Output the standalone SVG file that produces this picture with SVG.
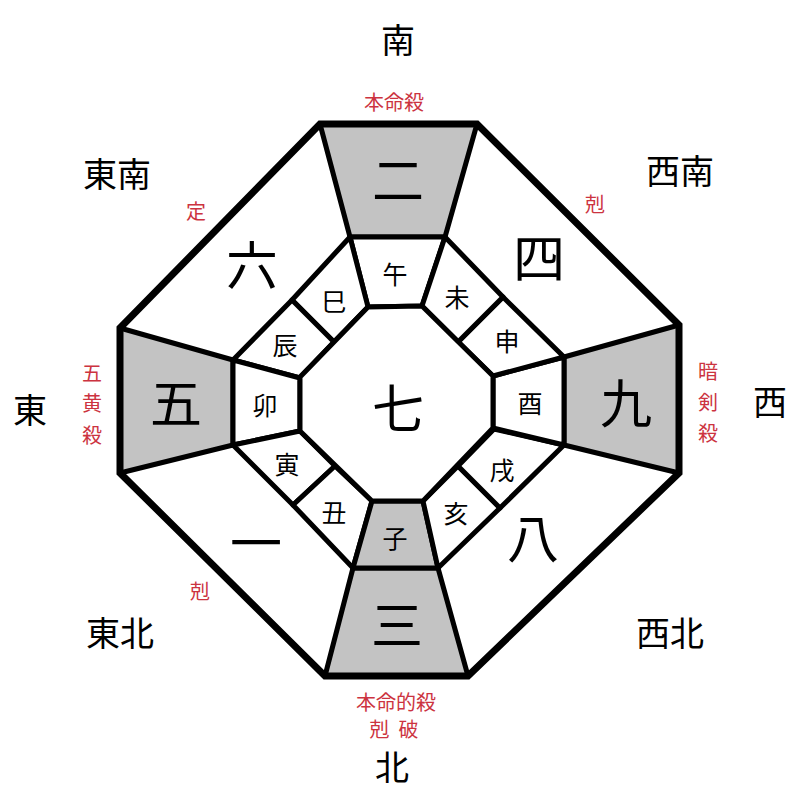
<svg xmlns="http://www.w3.org/2000/svg" width="800" height="800" viewBox="0 0 800 800">
<style>
.bg{fill:#ffffff}
.hl{fill:#c3c3c3;stroke:#000;stroke-width:5;stroke-linejoin:round}
.cell{fill:#ffffff;stroke:#000;stroke-width:5;stroke-linejoin:round}
.outer{fill:none;stroke:#000;stroke-width:7;stroke-linejoin:miter}
text{font-family:"Noto Sans CJK JP","Noto Sans CJK SC",sans-serif;text-anchor:middle;dominant-baseline:central}
.big{font-size:52px;fill:#000}
.br{font-size:25px;fill:#000}
.dir{font-size:34px;fill:#000}
.red{font-size:20px;fill:#cc3340}
</style>
<rect class="bg" x="0" y="0" width="800" height="800"/>

<g id="palaces">
  <g id="p-south"><polygon class="hl" points="320,124 477,124 445,237 350,237"/><text class="big" x="398" y="177">二</text></g>
  <g id="p-east"><polygon class="hl" points="120,328 233,360 233,445 120,473"/><text class="big" x="176" y="400">五</text></g>
  <g id="p-west"><polygon class="hl" points="564,357 679,325 679,473 564,445"/><text class="big" x="626" y="400">九</text></g>
  <g id="p-north"><polygon class="hl" points="353,568 438,568 468,676 325,676"/><text class="big" x="397" y="622">三</text></g>
  <g id="p-se"><text class="big" x="252" y="262">六</text></g>
  <g id="p-sw"><text class="big" x="539" y="255">四</text></g>
  <g id="p-ne"><text class="big" x="256" y="540">一</text></g>
  <g id="p-nw"><text class="big" x="533" y="535">八</text></g>
</g>

<g id="branches">
  <g id="b-wu"><polygon class="cell" points="350,237 445,237 422,306 368,307"/><text class="br" x="395" y="273">午</text></g>
  <g id="b-si"><polygon class="cell" points="350,237 368,307 334,342 292,300"/><text class="br" x="334" y="300">巳</text></g>
  <g id="b-chen"><polygon class="cell" points="292,300 334,342 300,378 233,360"/><text class="br" x="285" y="344">辰</text></g>
  <g id="b-mao"><polygon class="cell" points="233,360 300,378 300,431 233,445"/><text class="br" x="265" y="404">卯</text></g>
  <g id="b-yin"><polygon class="cell" points="233,445 300,431 335,466 293,505"/><text class="br" x="287" y="463">寅</text></g>
  <g id="b-chou"><polygon class="cell" points="293,505 335,466 372,501 353,568"/><text class="br" x="334" y="511">丑</text></g>
  <g id="b-zi"><polygon class="hl" points="372,501 423,501 438,568 353,568"/><text class="br" x="395" y="537">子</text></g>
  <g id="b-hai"><polygon class="cell" points="423,501 458,466 500,508 438,568"/><text class="br" x="456" y="512">亥</text></g>
  <g id="b-xu"><polygon class="cell" points="458,466 494,429 564,445 500,508"/><text class="br" x="502" y="469">戌</text></g>
  <g id="b-you"><polygon class="cell" points="493,376 564,357 564,445 493,428"/><text class="br" x="530" y="402">酉</text></g>
  <g id="b-shen"><polygon class="cell" points="458,342 503,297 564,357 493,376"/><text class="br" x="507" y="340">申</text></g>
  <g id="b-wei"><polygon class="cell" points="445,237 503,297 458,342 422,306"/><text class="br" x="457" y="296">未</text></g>
</g>

<g id="center">
  <polygon class="cell" points="368,307 422,306 493,376 493,428 423,501 372,501 300,431 300,377"/>
  <text class="big" x="398" y="405">七</text>
</g>

<g id="connectors">
  <polygon class="outer" points="320,124 477,124 679,325 679,473 468,676 325,676 120,473 120,328"/>
</g>

<g id="labels">
  <text class="dir" x="398" y="38">南</text>
  <text class="dir" x="117" y="172">東南</text>
  <text class="dir" x="680" y="169">西南</text>
  <text class="dir" x="30" y="408">東</text>
  <text class="dir" x="770" y="400">西</text>
  <text class="dir" x="120" y="631">東北</text>
  <text class="dir" x="670" y="631">西北</text>
  <text class="dir" x="392" y="765">北</text>
  <text class="red" x="394" y="101">本命殺</text>
  <text class="red" x="196" y="210">定</text>
  <text class="red" x="595" y="203">剋</text>
  <text class="red" x="92" y="372">五</text>
  <text class="red" x="92" y="402">黄</text>
  <text class="red" x="92" y="434">殺</text>
  <text class="red" x="708" y="370">暗</text>
  <text class="red" x="708" y="401">剣</text>
  <text class="red" x="708" y="432">殺</text>
  <text class="red" x="200" y="590">剋</text>
  <text class="red" x="396" y="701">本命的殺</text>
  <text class="red" x="394" y="728" xml:space="preserve">剋  破</text>
</g>
</svg>
